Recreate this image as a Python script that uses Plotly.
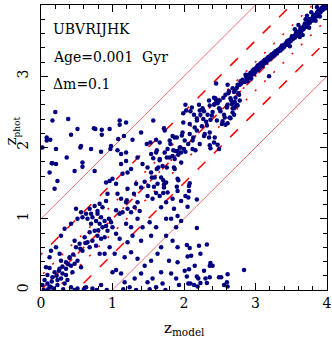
import plotly.graph_objects as go

# scattered points, x in 0-2 / y in 2-4
z_model_a = [0.20, 0.16, 0.38, 0.51, 0.42, 0.08, 0.13, 0.74, 0.76, 0.85, 0.96, 0.85, 1.10, 1.19, 1.10,
             1.08, 1.16, 1.28, 1.40, 1.48, 1.53, 1.61, 1.72, 1.73, 1.84, 1.90, 1.98, 0.56, 0.98, 1.81,
             0.02, 0.08, 0.15, 0.21, 0.36, 0.55]
z_phot_a = [2.50, 2.38, 2.40, 2.26, 2.18, 2.14, 2.11, 2.27, 2.26, 2.25, 2.26, 2.18, 2.38, 2.35, 2.32,
            2.12, 2.16, 2.11, 2.21, 2.05, 2.07, 2.11, 2.27, 2.24, 2.16, 2.14, 2.21, 2.02, 2.02, 2.05,
            2.00, 2.10, 1.78, 1.77, 1.86, 2.00]

# scattered points, x in 0-2 / y in 0-2
z_model_b = [0.21, 0.70, 0.84, 0.97, 1.07, 1.12, 1.19, 1.35, 1.54, 1.61, 1.66, 1.77, 1.84, 1.91, 1.96,
             0.16, 0.12, 0.47, 0.58, 0.58, 0.75, 0.23, 0.19, 1.12, 1.14, 1.21, 1.26, 1.19, 1.42, 1.49,
             1.54, 1.59, 1.63, 1.68, 1.75, 1.72, 1.77, 1.86, 1.91, 1.96, 1.00, 0.96, 1.05, 0.93, 0.91,
             1.12, 1.19, 1.21, 1.14, 1.26, 1.31, 1.35, 1.38, 1.49, 1.56, 1.66, 1.68, 1.75, 1.84, 1.91,
             1.96, 1.86, 1.75, 1.82, 1.91, 1.96, 0.49, 0.56, 0.58, 0.65, 0.70, 0.72, 0.77, 0.79, 0.82,
             0.84, 0.86, 0.89, 0.91, 0.93, 0.98, 1.00, 1.05, 0.75, 0.68, 0.79, 0.84, 0.89, 0.72, 0.65,
             0.61, 0.54, 0.47, 0.49, 0.58, 0.68, 0.77, 0.82, 0.89, 0.96, 1.03, 0.33, 0.28, 0.21, 0.14,
             0.12, 0.26, 0.28, 0.35, 0.40, 0.42, 0.47, 0.51, 0.56, 0.07, 0.12, 0.19, 0.26, 0.30, 0.35,
             0.16, 0.09, 0.05, 0.23, 0.28, 0.37, 0.44, 0.02, 0.09, 0.14, 0.23, 0.33, 0.42, 0.51, 0.63,
             0.72, 0.84, 1.00, 1.05, 1.12, 1.17, 1.24, 1.31, 1.40, 1.49, 1.56, 1.61, 1.68, 1.70, 1.82,
             1.89, 1.93, 1.10, 1.21, 1.28, 1.40, 1.54, 1.61, 1.68, 1.75, 1.84, 1.89, 1.91, 1.17, 1.26,
             1.35, 1.45, 1.54, 1.63, 1.79, 1.91, 1.19, 1.26, 1.35, 1.42, 1.52, 1.10, 1.40, 1.33, 1.21,
             1.07, 0.68, 0.75, 0.82, 0.86, 0.91, 0.79, 0.70, 0.63, 0.51, 0.42,
             0.25, 0.30, 0.35, 0.40, 0.55, 0.62, 0.80, 0.95, 1.05, 1.20, 1.30, 1.45, 1.50, 1.62, 1.70,
             1.80, 1.88, 1.95, 0.04, 0.10, 0.18, 0.31, 0.47, 0.60, 0.78, 0.92, 1.15, 1.33, 1.52, 1.74,
             0.15, 0.22, 0.38, 0.45, 0.12, 0.18]
z_phot_b = [1.98, 1.98, 1.94, 1.98, 1.96, 1.91, 1.93, 1.86, 1.91, 1.93, 1.84, 1.98, 1.88, 1.95, 1.93,
            1.78, 1.65, 1.67, 1.79, 1.73, 1.67, 1.53, 1.42, 1.77, 1.63, 1.65, 1.70, 1.81, 1.77, 1.72,
            1.65, 1.58, 1.49, 1.58, 1.51, 1.44, 1.37, 1.72, 1.56, 1.79, 1.56, 1.53, 1.49, 1.35, 1.51,
            1.28, 1.23, 1.14, 1.09, 1.09, 1.16, 1.23, 1.11, 1.32, 1.28, 1.32, 1.16, 1.23, 1.28, 1.39,
            1.25, 1.14, 1.00, 1.00, 1.04, 0.97, 1.14, 1.09, 1.02, 1.00, 0.93, 1.02, 0.97, 1.07, 0.93,
            1.02, 0.88, 0.97, 0.90, 0.83, 0.95, 0.88, 0.79, 0.83, 0.81, 0.76, 0.72, 0.74, 0.69, 0.67,
            0.74, 0.65, 0.69, 0.60, 0.55, 0.60, 0.62, 0.51, 0.51, 0.60, 0.51, 0.86, 0.76, 0.60, 0.55,
            0.46, 0.51, 0.41, 0.39, 0.46, 0.34, 0.37, 0.41, 0.32, 0.32, 0.31, 0.25, 0.30, 0.23, 0.21,
            0.18, 0.21, 0.14, 0.14, 0.16, 0.14, 0.25, 0.07, 0.09, 0.04, 0.07, 0.09, 0.04, 0.02, 0.04,
            0.02, 0.07, 0.25, 0.28, 0.23, 0.11, 0.04, 0.16, 0.23, 0.11, 0.16, 0.04, 0.25, 0.09, 0.23,
            0.16, 0.07, 0.72, 0.67, 0.76, 0.69, 0.76, 0.88, 0.60, 0.76, 0.69, 0.88, 0.60, 0.46, 0.53,
            0.44, 0.34, 0.41, 0.51, 0.41, 0.39, 0.93, 0.88, 1.00, 0.88, 0.95, 1.07, 1.44, 1.49, 1.42,
            1.35, 1.14, 1.18, 1.21, 1.16, 1.25, 1.11, 1.07, 1.07, 1.00, 0.93,
            0.27, 0.33, 0.30, 0.45, 0.58, 0.66, 0.84, 1.00, 1.12, 1.26, 1.35, 1.52, 1.46, 1.70, 1.74,
            1.86, 1.95, 2.00, 0.00, 0.01, 0.00, 0.01, 0.00, 0.01, 0.00, 0.00, 0.01, 0.00, 0.01, 0.00,
            0.12, 0.20, 0.36, 0.50, 0.05, 0.02]

# x in 2-4 / y in 0-2 (catastrophic outliers)
z_model_c = [2.02, 2.12, 2.16, 2.37, 2.49, 2.07, 2.07, 2.02, 2.06, 2.18, 2.05, 2.18, 2.04, 2.21, 2.32,
             2.08, 2.23, 2.05, 2.10, 2.37, 2.40, 2.36, 2.15, 2.28, 2.01, 2.07, 2.61, 2.84, 2.04, 2.18,
             2.20, 2.30, 2.32, 2.36, 2.49, 2.52, 2.60, 2.06, 2.09, 2.14, 2.19, 2.23, 2.56, 2.61]
z_phot_c = [1.94, 1.98, 1.96, 1.99, 1.98, 1.46, 1.39, 1.32, 1.30, 1.27, 1.17, 0.87, 0.63, 0.62, 0.64,
            0.59, 0.51, 0.47, 0.48, 0.38, 0.34, 0.34, 0.34, 0.27, 0.27, 0.29, 0.22, 0.28, 0.19, 0.19,
            0.16, 0.16, 0.10, 0.18, 0.18, 0.18, 0.11, 0.09, 0.09, 0.07, 0.05, 0.10, 0.07, 0.05]

# points around the diagonal, x from 1.5 to 3.0
z_model_d = [2.11, 2.22, 2.36, 2.43, 2.50, 2.60, 2.67, 2.71, 2.75, 1.57, 1.99, 2.08, 2.18, 2.27, 2.32,
             2.39, 2.46, 2.53, 2.57, 2.29, 2.08, 2.13, 2.18, 2.36, 2.43, 2.01, 1.97, 1.87, 1.80, 1.66,
             1.62, 1.73, 1.85, 1.94, 2.22, 2.36, 1.57, 1.66, 1.76, 1.87, 1.64, 1.76, 1.87, 1.55, 1.71,
             1.92, 2.08, 1.58, 1.72, 1.90, 1.61, 1.71, 2.02, 2.09, 2.14, 2.18, 2.21, 2.26, 2.28, 2.23,
             2.33, 2.37, 2.42, 2.44, 2.47, 2.49, 2.51, 2.56, 2.54, 2.61, 2.65, 2.70, 2.72, 2.68, 2.61,
             2.58, 2.63, 2.65, 2.68, 2.72, 2.75, 2.77, 2.79, 2.28, 2.35, 2.42, 2.47, 2.58, 1.99, 2.03,
             2.42, 2.45, 2.35, 2.50, 2.55, 2.60, 2.62, 2.66, 2.70, 2.72, 2.74, 2.76, 2.78, 2.70, 2.74,
             2.78, 2.68, 2.64, 2.45, 2.61, 2.86, 1.92, 2.00, 2.06, 2.12, 2.25, 2.31, 2.40, 2.15]
z_phot_d = [2.56, 2.52, 2.59, 2.61, 2.54, 2.56, 2.61, 2.64, 2.59, 2.38, 2.35, 2.33, 2.38, 2.40, 2.31,
            2.45, 2.38, 2.33, 2.42, 2.19, 2.19, 2.14, 2.24, 2.21, 2.14, 2.10, 2.17, 2.14, 2.10, 2.07,
            1.96, 1.93, 1.96, 2.00, 2.05, 2.03, 1.85, 1.82, 1.86, 1.84, 1.72, 1.72, 1.70, 1.58, 1.54,
            1.54, 1.50, 1.45, 1.48, 1.45, 1.36, 1.36, 2.60, 2.51, 2.46, 2.41, 2.60, 2.55, 2.51, 2.46,
            2.46, 2.39, 2.60, 2.69, 2.62, 2.55, 2.51, 2.46, 2.37, 2.34, 2.41, 2.46, 2.58, 2.55, 2.60,
            2.74, 2.79, 2.69, 2.83, 2.81, 2.88, 2.74, 2.93, 2.16, 2.14, 2.07, 2.04, 2.32, 2.48, 2.52,
            2.70, 2.66, 2.66, 2.66, 2.70, 2.58, 2.76, 2.66, 2.78, 2.70, 2.84, 2.76, 2.88, 2.55, 2.60,
            2.66, 2.49, 2.42, 2.90, 2.88, 3.02, 1.90, 1.98, 2.05, 2.10, 2.30, 2.36, 2.50, 2.28]

# tight sequence along the diagonal, x from 2.8 to 4
z_model_e = [2.80, 2.82, 2.85, 2.87, 2.88, 2.90, 2.92, 2.93, 2.95, 2.96, 2.97, 2.98, 3.00, 3.01, 3.02,
             3.03, 3.05, 3.06, 3.07, 3.08, 3.10, 3.11, 3.12, 3.13, 3.15, 3.16, 3.17, 3.18, 3.20, 3.21,
             3.22, 3.23, 3.25, 3.26, 3.27, 3.28, 3.30, 3.31, 3.32, 3.34, 3.35, 3.36, 3.38, 3.39, 3.40,
             3.42, 3.43, 3.45, 3.46, 3.47, 3.49, 3.50, 3.52, 3.53, 3.55, 3.56, 3.58, 3.59, 3.61, 3.62,
             3.64, 3.65, 3.67, 3.68, 3.70, 3.71, 3.73, 3.74, 3.76, 3.77, 3.79, 3.80, 3.82, 3.83, 3.85,
             3.86, 3.88, 3.89, 3.91, 3.92, 3.94, 3.95, 3.97, 3.98, 3.99, 3.60, 3.66, 3.70, 3.75, 3.78,
             3.84, 3.86, 3.90, 3.55, 3.48, 3.62, 3.72, 2.89, 2.91, 2.94, 2.98, 3.04, 3.09, 3.14, 3.19,
             3.24, 3.29, 3.33, 3.37, 3.44, 3.51, 3.57, 3.63, 3.69, 3.75, 3.81, 3.87, 3.93, 3.96, 3.19]
z_phot_e = [2.90, 2.95, 2.92, 2.99, 2.95, 3.02, 2.98, 3.05, 3.02, 3.08, 3.04, 3.10, 3.06, 3.12, 3.09,
            3.15, 3.11, 3.17, 3.13, 3.19, 3.15, 3.21, 3.18, 3.23, 3.20, 3.25, 3.22, 3.27, 3.24, 3.29,
            3.26, 3.31, 3.28, 3.33, 3.30, 3.35, 3.32, 3.37, 3.35, 3.39, 3.36, 3.41, 3.39, 3.43, 3.41,
            3.46, 3.44, 3.48, 3.46, 3.51, 3.49, 3.53, 3.52, 3.56, 3.54, 3.59, 3.57, 3.62, 3.60, 3.65,
            3.63, 3.68, 3.66, 3.71, 3.69, 3.74, 3.72, 3.77, 3.75, 3.80, 3.78, 3.83, 3.81, 3.86, 3.84,
            3.89, 3.87, 3.92, 3.90, 3.95, 3.93, 3.98, 3.95, 3.99, 3.97, 3.72, 3.58, 3.80, 3.68, 3.90,
            3.78, 3.97, 3.84, 3.66, 3.42, 3.55, 3.85, 2.93, 3.00, 2.97, 3.03, 3.09, 3.14, 3.19, 3.24,
            3.29, 3.34, 3.38, 3.43, 3.49, 3.56, 3.62, 3.68, 3.74, 3.80, 3.86, 3.91, 3.96, 3.99, 3.00]

z_model = z_model_a + z_model_b + z_model_c + z_model_d + z_model_e
z_phot = z_phot_a + z_phot_b + z_phot_c + z_phot_d + z_phot_e

# reference lines z_phot = z_model + offset
offsets_solid = [1.0, -1.0]
offsets_dash = [0.5, -0.5]
offsets_dot = [0.2, -0.2]
line_x = [-1, 5]
tick_vals = [0, 1, 2, 3, 4]
tick_text = ["0", "1", "2", "3", "4"]

red = "#ff0000"
fig = go.Figure()
for off in offsets_solid:
    fig.add_trace(go.Scatter(x=line_x, y=[v + off for v in line_x], mode="lines",
                             line=dict(color="#f46a6a", width=1)))
for off in offsets_dash:
    fig.add_trace(go.Scatter(x=line_x, y=[v + off for v in line_x], mode="lines",
                             line=dict(color=red, width=1.5, dash="11px,12px")))
for off in offsets_dot:
    fig.add_trace(go.Scatter(x=line_x, y=[v + off for v in line_x], mode="lines",
                             line=dict(color=red, width=1.5, dash="2px,11px")))
fig.add_trace(go.Scatter(x=line_x, y=line_x, mode="lines",
                         line=dict(color=red, width=1.5, dash="9px,3px,2px,3px")))

fig.add_trace(go.Scatter(x=z_model, y=z_phot, mode="markers",
                         marker=dict(color="#000080", size=4.5, line=dict(width=0))))

axis_common = dict(
    range=[0, 4], tickmode="array", tickvals=tick_vals, ticktext=tick_text,
    ticks="inside", ticklen=7, tickwidth=1, tickcolor="black",
    minor=dict(ticks="inside", ticklen=4, dtick=0.2, tickcolor="black"),
    showline=True, linecolor="black", linewidth=1, mirror="ticks",
    showgrid=False, zeroline=False, automargin=False,
    tickfont=dict(family="DejaVu Serif", size=14, color="black"),
)
fig.update_xaxes(**axis_common)
fig.update_yaxes(**axis_common, tickangle=-90, ticklabelstandoff=6)

# axis titles as annotations so their place is fixed
fig.add_annotation(x=0.5, y=-0.093, xref="paper", yref="paper", text="z<sub>model</sub>",
                   showarrow=False, xanchor="center", yanchor="top",
                   font=dict(family="DejaVu Serif", size=15, color="black"))
fig.add_annotation(x=-0.1, y=0.558, xref="paper", yref="paper",
                   text="z<sub><span style='font-size:9px'>phot</span></sub>",
                   showarrow=False, xanchor="center", yanchor="middle", textangle=-90,
                   font=dict(family="DejaVu Serif", size=15, color="black"))

text_lines = ["UBVRIJHK", "Age=0.001  Gyr", "\u0394m=0.1"]
text_y = [0.916, 0.818, 0.722]
for t, yy in zip(text_lines, text_y):
    fig.add_annotation(x=0.035, y=yy, xref="paper", yref="paper", text=t, showarrow=False,
                       xanchor="left", yanchor="middle",
                       font=dict(family="DejaVu Serif", size=14, color="black"))

fig.update_layout(
    width=332, height=346,
    margin=dict(l=41, r=5, t=5, b=56),
    paper_bgcolor="white", plot_bgcolor="white",
    showlegend=False,
)
# page has a default 8px body margin; drop it so the figure fills the window
fig.write_html("out.html", config={"displayModeBar": False},
               post_script="document.body.style.margin='0';")
